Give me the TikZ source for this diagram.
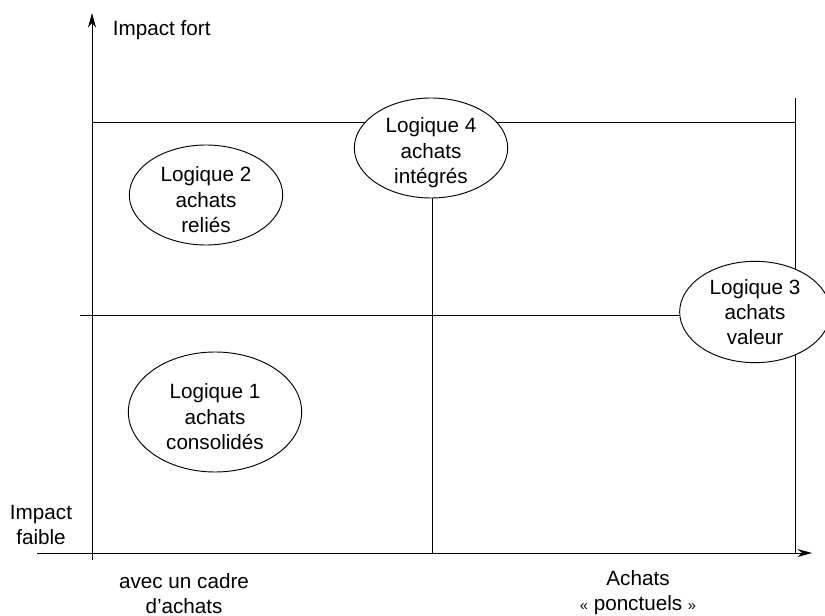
\documentclass[tikz,border=0pt]{standalone}
\usepackage{fontspec}
\setmainfont{Liberation Sans}
\usetikzlibrary{shapes.geometric,arrows.meta}
\newcommand{\guil}[1]{{\fontsize{11}{11}\selectfont#1}}
\begin{document}
\begin{tikzpicture}[x=0.75pt,y=-0.75pt,line width=0.7pt,>={Stealth[length=11pt,width=6pt]},
  every node/.style={font=\fontsize{15.5}{18.8}\selectfont},
  logique/.style={ellipse,draw,fill=white,inner sep=0pt,minimum width=115pt,minimum height=75pt},
  texte/.style={align=center,yshift=-3.5pt}]
\useasboundingbox (0,0) rectangle (825,616);
\coordinate (ybas) at (92,560);
\coordinate (yhaut) at (92,13);
\coordinate (xgauche) at (37,553);
\coordinate (xdroite) at (812,553);
\draw[->] (ybas)--(yhaut);
\draw[->] (xgauche)--(xdroite);
\coordinate (h1) at (92,122);
\coordinate (h2) at (795,122);
\coordinate (d1) at (795,98);
\coordinate (d2) at (795,553);
\coordinate (m1) at (80,315);
\coordinate (m2) at (700,315);
\coordinate (v1) at (432,553);
\coordinate (v2) at (432,170);
\draw (h1)--(h2);
\draw (d1)--(d2);
\draw (m1)--(m2);
\draw (v1)--(v2);
\node[logique,label={[texte]center:Logique 2\\achats\\reliés}] (log2) at (206,195) {};
\node[logique,label={[texte]center:Logique 4\\achats\\intégrés}] (log4) at (431,148) {};
\node[logique,minimum width=113pt,minimum height=76pt,label={[texte,yshift=3.5pt]center:Logique 3\\achats\\valeur}] (log3) at (755,312) {};
\node[logique,minimum width=130pt,minimum height=90pt,label={[texte]center:Logique 1\\achats\\consolidés}] (log1) at (215,412) {};
\node[right] (fort) at (108,30) {Impact fort};
\node[align=center] (faible) at (41,525) {Impact\\faible};
\node[align=center] (cadre) at (184,594) {avec un cadre\\d’achats};
\node[align=center] (ponctuels) at (638,593) {Achats\\\guil{«} ponctuels \guil{»}};
\end{tikzpicture}
\end{document}
